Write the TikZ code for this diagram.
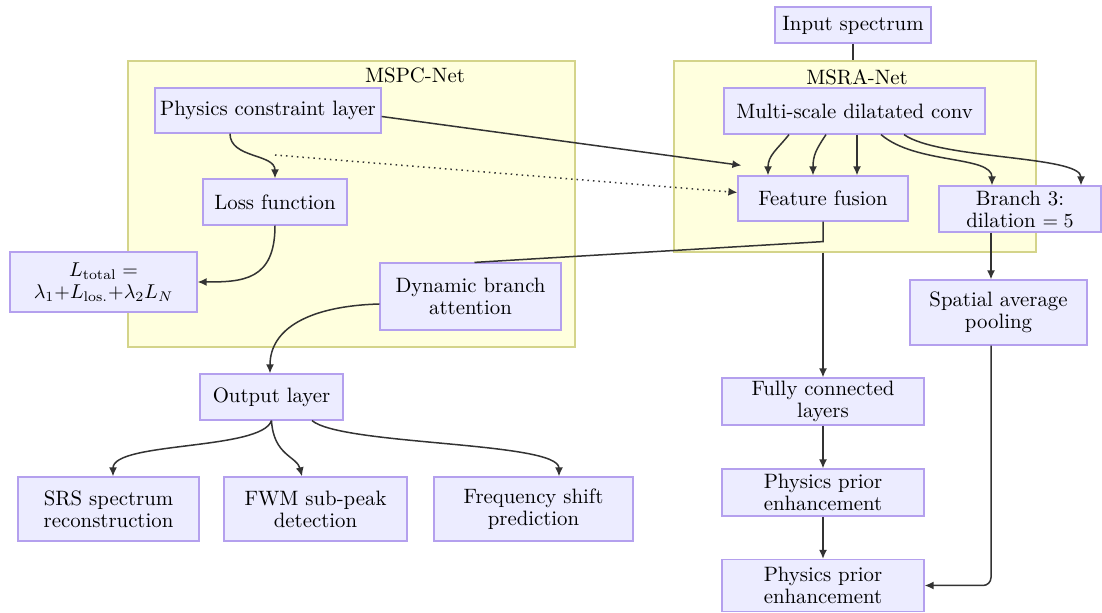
\documentclass[tikz,border=0pt]{standalone}
\usetikzlibrary{arrows.meta}
\definecolor{boxFill}{HTML}{ECECFF}
\definecolor{boxLine}{HTML}{B4A0EE}
\definecolor{clusterFill}{HTML}{FFFFDE}
\definecolor{clusterLine}{HTML}{D4D48A}
\definecolor{edgeLine}{HTML}{333333}

\begin{document}
\begin{tikzpicture}
[x=0.5pt,y=-0.5pt,
  boxDecorate/.style={shape=rectangle,draw=boxLine,fill=boxFill,line width=0.6pt,
    inner sep=0pt,align=center,font=\fontsize{10.4}{11}\selectfont},
  clusterDecorate/.style={shape=rectangle,draw=clusterLine,fill=clusterFill,
    line width=0.6pt,inner sep=0pt},
  labelDecorate/.style={font=\fontsize{10.4}{11}\selectfont},
  lineDecorate/.style={-,draw=edgeLine,line width=0.75pt},
  arrowDecorate/.style={lineDecorate,-{Latex[length=4.5pt,width=4pt]}},
  dotDecorate/.style={arrowDecorate,dotted}]
\useasboundingbox (0,0) rectangle (1102,613);
%% clusters
\foreach \nodename/\x/\y/\w/\h/\lx/\ly/\txt in {
  mspc/351.5/204/447/286/415/75/MSPC-Net,
  msra/855/156.5/362/191/857/77/MSRA-Net}
{
  \node (\nodename) at (\x,\y) [clusterDecorate,minimum width=\w*0.5pt,minimum height=\h*0.5pt] {};
  \node (\nodename-label) at (\lx,\ly) [labelDecorate] {\txt};
}
%% boxes
\foreach \nodename/\x/\y/\w/\h/\txt in {
  inp/853/25/156/36/{Input spectrum},
  msd/854.5/111/261/46/{Multi-scale dilatated conv},
  ff/823/198.5/170/45/{Feature fusion},
  br3/1020/209/162/46/{Branch 3:\\dilation $=5$},
  sap/998.5/312.5/177/65/{Spatial average\\pooling},
  fc/823/401.5/202/47/{Fully connected\\layers},
  pp1/823/492.5/202/47/{Physics prior\\enhancement},
  pp2/823/585.5/202/52/{Physics prior\\enhancement},
  pcl/268/110.5/226/45/{Physics constraint layer},
  loss/275/202/144/46/{Loss function},
  ltot/103.5/282/187/60/{$L_{\mathrm{total}}=$\\$\lambda_1{+}L_{\mathrm{los.}}{+}\lambda_2L_N$},
  dba/470.5/296.5/181/67/{Dynamic branch\\attention},
  out/271.5/397/143/46/{Output layer},
  srs/108.5/509/181/64/{SRS spectrum\\reconstruction},
  fwm/315.5/509/183/64/{FWM sub-peak\\detection},
  fsp/533.5/509/199/64/{Frequency shift\\prediction}}
{
  \node (\nodename) at (\x,\y) [boxDecorate,minimum width=\w*0.5pt,minimum height=\h*0.5pt] {\txt};
}
\coordinate (split) at (275,155);
%% edges
\draw[lineDecorate] (inp.south) -- (inp.south |- msra.north);
\draw[arrowDecorate] ([xshift=-32.75pt]msd.south) .. controls +(-12,15) and +(0,-20) .. ([xshift=-27.5pt]ff.north);
\draw[arrowDecorate] ([xshift=-14.25pt]msd.south) .. controls +(-10,15) and +(0,-20) .. ([xshift=-5pt]ff.north);
\draw[arrowDecorate] (msd.south -| 857,0) -- (ff.north -| 857,0);
\draw[arrowDecorate] ([xshift=13.25pt]msd.south) .. controls +(35,30) and +(0,-30) .. ([xshift=-14pt]br3.north);
\draw[arrowDecorate] ([xshift=24.75pt]msd.south) .. controls +(35,25) and +(0,-30) .. ([xshift=30.5pt]br3.north);
\draw[arrowDecorate] ([yshift=-3pt]pcl.east) -- ([xshift=2pt,yshift=5pt]ff.north west);
\draw[arrowDecorate] ([xshift=-19pt]pcl.south) .. controls +(0,25) and +(0,-25) .. (loss.north);
\draw[dotDecorate] (split) -- ([yshift=3pt]ff.west);
\draw[arrowDecorate] (loss.south) .. controls +(0,55) and +(45,0) .. (ltot.east);
\draw[lineDecorate] (ff.south) -- ++(0,20) -- ([xshift=2pt]dba.north);
\draw[arrowDecorate] (ff.south |- msra.south) -- (fc.north);
\draw[arrowDecorate] ([yshift=-3.75pt]dba.west) .. controls +(-70,2) and +(0,-45) .. ([xshift=-0.75pt]out.north);
\draw[arrowDecorate] (out.south) .. controls +(-10,30) and +(0,-35) .. ([xshift=2.25pt]srs.north);
\draw[arrowDecorate] (out.south) .. controls +(2,35) and +(-5,-20) .. ([xshift=-6.75pt]fwm.north);
\draw[arrowDecorate] ([xshift=20.25pt]out.south) .. controls +(30,25) and +(0,-35) .. ([xshift=12.75pt]fsp.north);
\draw[arrowDecorate] (br3.south -| 991,0) -- (sap.north -| 991,0);
\draw[arrowDecorate,rounded corners=4pt] (sap.south -| 991,0) |- (pp2.east);
\draw[arrowDecorate] (fc.south) -- (pp1.north);
\draw[arrowDecorate] (pp1.south) -- (pp2.north);
\end{tikzpicture}
\end{document}
